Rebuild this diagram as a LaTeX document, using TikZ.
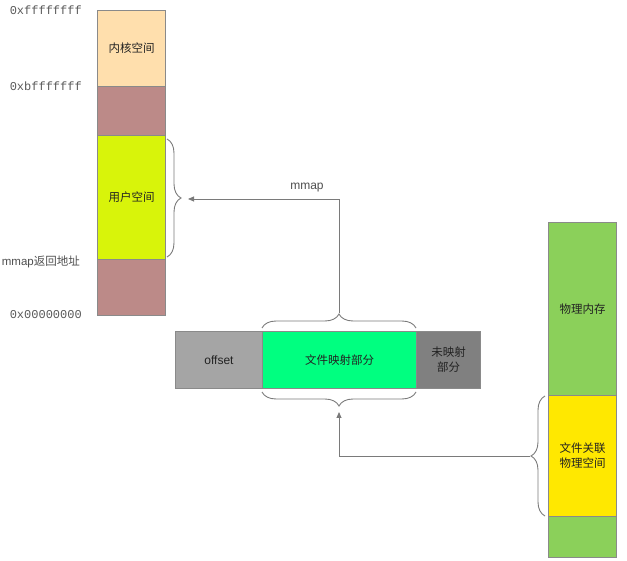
\documentclass[tikz,border=0pt]{standalone}
\usepackage{fontspec}
\setmainfont{Liberation Sans}
\newfontfamily\cjk{Noto Sans CJK SC}
\newfontfamily\monof{Liberation Mono}
\usetikzlibrary{arrows.meta,decorations.pathreplacing}
\definecolor{kernelc}{HTML}{FFDFAD}
\definecolor{brownc}{HTML}{BC8A88}
\definecolor{limec}{HTML}{D8F40A}
\definecolor{offc}{HTML}{A5A5A5}
\definecolor{mapc}{HTML}{00FF80}
\definecolor{unmapc}{HTML}{808080}
\definecolor{physc}{HTML}{8BD05A}
\definecolor{yelc}{HTML}{FFE800}
\definecolor{edgec}{HTML}{8A8A8A}
\definecolor{linec}{HTML}{7A7A7A}
\definecolor{txtc}{HTML}{222222}
\begin{document}
\begin{tikzpicture}[x=1pt,y=-1pt,
  seg/.style={draw=edgec, line width=1pt, anchor=north west, inner sep=0pt,
    font=\cjk\fontsize{11.5}{15}\selectfont, text=txtc, align=center},
  addr/.style={font=\monof\fontsize{12}{12}\selectfont, text=txtc!75, anchor=east, inner sep=0pt},
  bracec/.style={draw=linec, line width=0.9pt, decorate,
    decoration={brace, amplitude=14pt, aspect=0.5}},
  conn/.style={draw=linec, line width=0.9pt, -{Triangle[width=5pt,length=6pt]}}]
\useasboundingbox (0,0) rectangle (627,561);
% left column
\node[seg, fill=kernelc, minimum width=68pt, minimum height=76pt] (kern) at (97,10) {内核空间};
\node[seg, fill=brownc, minimum width=68pt, minimum height=49pt] (gap1) at (97,86) {};
\node[seg, fill=limec, minimum width=68pt, minimum height=124pt] (user) at (97,135) {用户空间};
\node[seg, fill=brownc, minimum width=68pt, minimum height=56pt] (gap2) at (97,259) {};
\node[addr] (a1) at (82,10) {0xffffffff};
\node[addr] (a2) at (82,86) {0xbfffffff};
\node[anchor=east, inner sep=0pt, font=\fontsize{11.5}{12}\selectfont, text=txtc!80] (a3) at (80,262) {mmap{\cjk\fontsize{11.5}{12}\selectfont 返回地址}};
\node[addr] (a4) at (82,315) {0x00000000};
% middle bar
\node[seg, fill=offc, minimum width=87pt, minimum height=57pt, font=\fontsize{12}{12}\selectfont] (off) at (175,331) {offset};
\node[seg, fill=mapc, minimum width=154pt, minimum height=57pt] (mapped) at (262,331) {文件映射部分};
\node[seg, fill=unmapc, minimum width=64pt, minimum height=57pt] (unmapped) at (416,331) {未映射\\部分};
% right column
\node[seg, fill=physc, minimum width=68pt, minimum height=173pt] (phys) at (548,222) {物理内存};
\node[seg, fill=yelc, minimum width=68pt, minimum height=121pt] (fphys) at (548,395) {文件关联\\物理空间};
\node[seg, fill=physc, minimum width=68pt, minimum height=41pt] (phys2) at (548,516) {};
% braces
\draw[bracec] (167,139) -- (167,257);
\coordinate (lbt) at (182,199);
\draw[bracec] (262,328) -- (416,328);
\coordinate (mtt) at (339,313);
\draw[bracec] (416,392) -- (262,392);
\coordinate (mbt) at (339,407);
\draw[bracec] (545,516) -- (545,396);
\coordinate (rbt) at (530,456);
% connectors
\coordinate (c1) at (339,199);
\coordinate (c2) at (339,456);
\draw[conn, shorten >=6pt] (mtt) -- (c1) -- (lbt);
\node[font=\fontsize{12}{12}\selectfont, text=txtc!80] (lbl) at (307,188) {mmap};
\draw[conn, shorten >=5pt] (rbt) -- (c2) -- (mbt);
\end{tikzpicture}
\end{document}
